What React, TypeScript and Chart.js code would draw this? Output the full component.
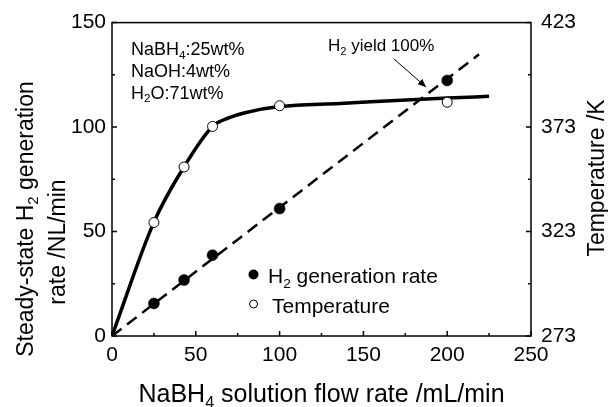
import React, { useEffect, useRef } from "react";
import { Chart, registerables } from "chart.js";

Chart.register(...registerables);

// ---- data ----
const flowRate = [25, 43, 60, 100, 200];
const h2Rate = [15.6, 26.8, 38.7, 61.0, 122.3];
const temperature = [327.3, 353.9, 373.3, 383.2, 384.9];

const tempCurveX = [0, 25, 43, 60, 70, 80, 100, 136, 200, 225];
const tempCurveY = [273, 327.5, 354, 373.3, 377.5, 380, 382.8, 384.3, 386.9, 387.7];

const yieldLineX = [0, 219];
const yieldLineY = [0, 134.8];

const xRange = [0, 250];
const leftRange = [0, 150];
const rightRange = [273, 423];
const tickStep = 50;
const minorStep = 25;

const FONT = "'Liberation Sans', Arial, Helvetica, sans-serif";

type Part = [string, boolean];

function richWidth(ctx: CanvasRenderingContext2D, parts: Part[], size: number) {
  let w = 0;
  for (const [t, sub] of parts) {
    ctx.font = `${sub ? size * 0.65 : size}px ${FONT}`;
    w += ctx.measureText(t).width;
  }
  return w;
}

function drawRich(
  ctx: CanvasRenderingContext2D,
  parts: Part[],
  x: number,
  y: number,
  size: number,
  align: "left" | "center" | "right"
) {
  const w = richWidth(ctx, parts, size);
  let cx = align === "center" ? x - w / 2 : align === "right" ? x - w : x;
  ctx.textAlign = "left";
  ctx.textBaseline = "alphabetic";
  ctx.fillStyle = "#000";
  for (const [t, sub] of parts) {
    ctx.font = `${sub ? size * 0.65 : size}px ${FONT}`;
    ctx.fillText(t, cx, sub ? y + size * 0.22 : y);
    cx += ctx.measureText(t).width;
  }
}

function drawRotated(
  ctx: CanvasRenderingContext2D,
  parts: Part[],
  x: number,
  y: number,
  size: number
) {
  ctx.save();
  ctx.translate(x, y);
  ctx.rotate(-Math.PI / 2);
  drawRich(ctx, parts, 0, 0, size, "center");
  ctx.restore();
}

const decorPlugin = {
  id: "decor",
  afterDraw(chart: any) {
    const ctx: CanvasRenderingContext2D = chart.ctx;
    const { left, right, top, bottom } = chart.chartArea;
    const xs = chart.scales.x;
    const ys = chart.scales.y;
    const y2 = chart.scales.y2;
    ctx.save();
    ctx.strokeStyle = "#000";
    ctx.lineWidth = 1.5;
    // inward ticks
    ctx.beginPath();
    for (let v = xRange[0]; v <= xRange[1]; v += minorStep) {
      const px = xs.getPixelForValue(v);
      const len = v % tickStep === 0 ? 5 : 3;
      ctx.moveTo(px, bottom);
      ctx.lineTo(px, bottom - len);
    }
    for (let v = leftRange[0]; v <= leftRange[1]; v += minorStep) {
      const py = ys.getPixelForValue(v);
      const len = v % tickStep === 0 ? 5 : 3;
      ctx.moveTo(left, py);
      ctx.lineTo(left + len, py);
    }
    for (let v = rightRange[0]; v <= rightRange[1]; v += minorStep) {
      const py = y2.getPixelForValue(v);
      const len = (v - rightRange[0]) % tickStep === 0 ? 5 : 3;
      ctx.moveTo(right, py);
      ctx.lineTo(right - len, py);
    }
    ctx.stroke();
    // frame
    ctx.lineWidth = 1.5;
    ctx.strokeRect(left, top, right - left, bottom - top);

    // composition text
    drawRich(ctx, [["NaBH", false], ["4", true], [":25wt%", false]], 131, 55, 18, "left");
    drawRich(ctx, [["NaOH:4wt%", false]], 131, 77, 18, "left");
    drawRich(ctx, [["H", false], ["2", true], ["O:71wt%", false]], 131, 98.5, 18, "left");

    // annotation
    drawRich(ctx, [["H", false], ["2", true], [" yield 100%", false]], 328, 51, 17, "left");
    const ax0 = 394, ay0 = 59, ax1 = 426, ay1 = 87;
    ctx.lineWidth = 1;
    ctx.beginPath();
    ctx.moveTo(ax0, ay0);
    ctx.lineTo(ax1, ay1);
    ctx.stroke();
    const ang = Math.atan2(ay1 - ay0, ax1 - ax0);
    const hl = 8, hw = 3.5;
    ctx.beginPath();
    ctx.moveTo(ax1, ay1);
    ctx.lineTo(ax1 - hl * Math.cos(ang) + hw * Math.sin(ang), ay1 - hl * Math.sin(ang) - hw * Math.cos(ang));
    ctx.lineTo(ax1 - hl * Math.cos(ang) - hw * Math.sin(ang), ay1 - hl * Math.sin(ang) + hw * Math.cos(ang));
    ctx.closePath();
    ctx.fillStyle = "#000";
    ctx.fill();

    // legend
    ctx.beginPath();
    ctx.arc(253.5, 274.5, 5, 0, Math.PI * 2);
    ctx.fillStyle = "#000";
    ctx.fill();
    drawRich(ctx, [["H", false], ["2", true], [" generation rate", false]], 268, 283, 21, "left");
    ctx.beginPath();
    ctx.arc(253.5, 304, 4, 0, Math.PI * 2);
    ctx.fillStyle = "#fff";
    ctx.fill();
    ctx.lineWidth = 1;
    ctx.strokeStyle = "#000";
    ctx.stroke();
    drawRich(ctx, [["Temperature", false]], 272, 312.5, 21, "left");

    // axis titles
    drawRich(
      ctx,
      [["NaBH", false], ["4", true], [" solution flow rate /mL/min", false]],
      (left + right) / 2,
      402,
      25,
      "center"
    );
    drawRotated(ctx, [["Steady-state H", false], ["2", true], [" generation", false]], 33, 219, 23);
    drawRotated(ctx, [["rate /NL/min", false]], 65, 242, 23);
    drawRotated(ctx, [["Temperature /K", false]], 604, 178, 23);
    ctx.restore();
  },
};

export default function App() {
  const canvasRef = useRef<HTMLCanvasElement | null>(null);

  useEffect(() => {
    if (!canvasRef.current) return;
    const toPts = (xs: number[], ys: number[]) => xs.map((x, i) => ({ x, y: ys[i] }));
    const tickFont = { family: FONT, size: 21 };
    const chart = new Chart(canvasRef.current, {
      type: "scatter",
      data: {
        datasets: [
          {
            label: "H2 generation rate",
            data: toPts(flowRate, h2Rate),
            yAxisID: "y",
            showLine: false,
            pointRadius: 5.5,
            pointBackgroundColor: "#000",
            pointBorderColor: "#000",
            pointBorderWidth: 0.5,
            order: 1,
          },
          {
            label: "Temperature",
            data: toPts(flowRate, temperature),
            yAxisID: "y2",
            showLine: false,
            pointRadius: 5,
            pointBackgroundColor: "#fff",
            pointBorderColor: "#000",
            pointBorderWidth: 1,
            order: 0,
          },
          {
            label: "H2 yield 100%",
            data: toPts(yieldLineX, yieldLineY),
            yAxisID: "y",
            showLine: true,
            borderColor: "#000",
            borderWidth: 2.5,
            borderDash: [12, 7],
            pointRadius: 0,
            order: 3,
          },
          {
            label: "Temperature curve",
            data: toPts(tempCurveX, tempCurveY),
            yAxisID: "y2",
            showLine: true,
            borderColor: "#000",
            borderWidth: 3.5,
            cubicInterpolationMode: "monotone",
            pointRadius: 0,
            order: 2,
          },
        ],
      },
      options: {
        animation: false,
        responsive: true,
        maintainAspectRatio: false,
        layout: { padding: { top: 22, left: 0, right: 0, bottom: 0 } },
        plugins: {
          legend: { display: false },
          tooltip: { enabled: false },
          title: { display: false },
        },
        scales: {
          x: {
            type: "linear",
            position: "bottom",
            min: xRange[0],
            max: xRange[1],
            grid: { display: false, drawTicks: false },
            border: { display: false },
            ticks: { stepSize: tickStep, color: "#000", font: tickFont, padding: 7, maxRotation: 0 },
            afterFit: (s: any) => {
              s.height = 71;
            },
          },
          y: {
            type: "linear",
            position: "left",
            min: leftRange[0],
            max: leftRange[1],
            grid: { display: false, drawTicks: false },
            border: { display: false },
            ticks: { stepSize: tickStep, color: "#000", font: tickFont, padding: 6 },
            afterFit: (s: any) => {
              s.width = 112;
            },
          },
          y2: {
            type: "linear",
            position: "right",
            min: rightRange[0],
            max: rightRange[1],
            grid: { display: false, drawTicks: false },
            border: { display: false },
            ticks: { stepSize: tickStep, color: "#000", font: tickFont, padding: 10 },
            afterFit: (s: any) => {
              s.width = 77;
            },
          },
        },
      } as any,
      plugins: [decorPlugin],
    });
    return () => chart.destroy();
  }, []);

  return (
    <div
      style={{
        position: "fixed",
        left: 0,
        top: 0,
        width: 608,
        height: 407,
        background: "#fff",
      }}
    >
      <canvas ref={canvasRef} />
    </div>
  );
}
